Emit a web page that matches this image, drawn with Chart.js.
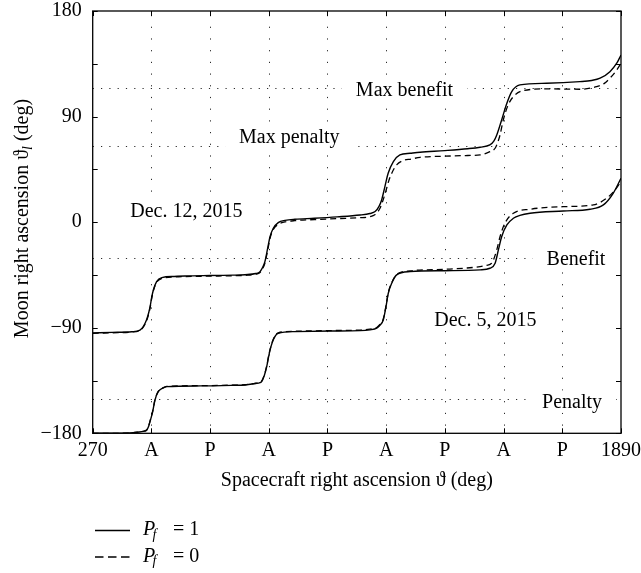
<!DOCTYPE html>
<html>
<head>
<meta charset="utf-8">
<script src="https://cdn.jsdelivr.net/npm/chart.js@4.4.1/dist/chart.umd.min.js"></script>
<style>
  html, body { margin: 0; padding: 0; background: #fff; }
  #wrap { width: 641px; height: 573px; position: relative; }
  canvas { display: block; }
</style>
</head>
<body>
<div id="wrap"><canvas id="c" width="641" height="573"></canvas></div>
<script>
// ---------------- data ----------------
const xTickLabels = ['270', 'A', 'P', 'A', 'P', 'A', 'P', 'A', 'P', '1890'];
const yTickLabels = ['\u2212180', '', '\u221290', '', '0', '', '90', '', '180'];
const refLevels = [114.2, 65.0, -30.8, -151.0];

const annText = ['Max benefit', 'Max penalty', 'Dec. 12, 2015', 'Benefit', 'Dec. 5, 2015', 'Penalty'];
const annX = [1226, 873, 557, 1752, 1474, 1740];
const annY = [112.7, 72.9, 9.5, -30.8, -83.4, -153.0];

const legendLabels = ['1', '0'];

// Dec. 12, 2015 departure, P_f = 1 (solid)
const dec12Pf1 = [
  [270,-94.5],[330,-94.0],[390,-93.4],[415,-92.0],[431,-86.0],[439,-80.0],[446,-72.0],[451,-64.0],[456,-57.8],
  [466,-50.7],[482,-47.3],[520,-46.3],[553,-45.9],[630,-45.5],[700,-45.2],[737,-44.8],[770,-43.8],[783,-42.2],
  [792,-38.0],[798,-33.7],[806.6,-22.2],[813.7,-12.4],[823.8,-5.2],[839,-0.4],[860,1.5],[890,2.5],[950,3.3],
  [1020,4.5],[1090,6.1],[1120,7.4],[1136,9.0],[1148,13.5],[1156,18.9],[1166,30.3],[1176,41.7],[1192,51.6],
  [1212,57.3],[1243,58.7],[1274,59.6],[1350,61.0],[1420,62.6],[1458,63.9],[1488,65.8],[1500,69.0],[1509,74.3],
  [1524,87.1],[1540,101.4],[1555,111.3],[1580,117.0],[1662,118.4],[1764,119.8],[1800,120.8],[1826,122.7],
  [1856,128.3],[1877,135.5],[1890,142.5]
];
// Dec. 12, 2015 departure, P_f = 0 (dashed)
const dec12Pf0 = [
  [270,-94.8],[330,-94.3],[390,-93.7],[415,-92.4],[431,-86.8],[439,-81.0],[446,-73.0],[451,-65.0],[456,-58.6],
  [466,-51.3],[482,-48.0],[520,-46.8],[553,-46.4],[630,-46.0],[700,-45.7],[737,-45.3],[770,-44.4],[783,-43.0],
  [792,-39.2],[798,-35.0],[806.6,-24.0],[813.7,-13.8],[823.8,-6.2],[839,-1.8],[860,0.2],[890,1.3],[950,2.2],
  [1020,3.0],[1090,3.8],[1120,4.6],[1130,5.5],[1140,7.5],[1151,11.8],[1160,18.5],[1168.5,26.0],[1177,34.5],
  [1187,41.7],[1202,48.8],[1228,53.0],[1243,53.6],[1274,55.3],[1350,56.2],[1420,56.8],[1458,57.3],[1488,60.1],
  [1504,63.0],[1512,68.0],[1519,74.3],[1529,87.1],[1544,99.9],[1560,107.0],[1590,112.1],[1662,113.6],
  [1764,113.3],[1815,115.5],[1840,118.5],[1856,122.7],[1875,129.0],[1890,135.5]
];
// Dec. 5, 2015 departure, P_f = 1 (solid)
const dec5Pf1 = [
  [270,-180],[330,-180],[384,-179.8],[410,-179.0],[425,-178.3],[435.6,-177.2],[441,-174.5],[445.7,-170.0],
  [454,-161.5],[461,-151.6],[471,-144.5],[485,-141.5],[497,-140.2],[600,-139.6],[700,-139.1],[737,-138.8],
  [770,-137.6],[783,-136.8],[788,-136.0],[796,-131.0],[803.6,-123.2],[811.5,-111.8],[823.8,-100.3],[839,-94.7],
  [890,-93.3],[1000,-92.8],[1090,-92.5],[1120,-91.8],[1141,-90.4],[1152,-87.5],[1161,-83.4],[1169.4,-72.0],
  [1176.4,-60.6],[1186.9,-52.1],[1202,-45.0],[1243,-42.2],[1350,-41.4],[1458,-40.7],[1488,-39.3],[1504,-35.0],
  [1514,-23.7],[1524,-12.4],[1540,-2.4],[1560,3.3],[1580,5.8],[1611,7.6],[1713,9.5],[1795,11.0],[1836,14.7],
  [1866,24.6],[1890,37.4]
];
// Dec. 5, 2015 departure, P_f = 0 (dashed)
const dec5Pf0 = [
  [270,-180],[330,-180],[384,-179.8],[410,-179.0],[425,-178.3],[435.6,-177.2],[441,-174.3],[445.7,-169.6],
  [454,-161.0],[461,-151.2],[471,-144.2],[485,-141.3],[497,-140.0],[600,-139.4],[700,-138.9],[737,-138.6],
  [770,-137.3],[783,-136.4],[788,-135.5],[796,-130.4],[803.6,-122.6],[811.5,-111.2],[823.8,-99.8],[839,-94.3],
  [890,-93.0],[1000,-92.4],[1090,-92.0],[1120,-91.2],[1141,-89.8],[1152,-86.8],[1161,-82.6],[1169.4,-71.2],
  [1176.4,-60.0],[1186.9,-51.6],[1202,-44.6],[1243,-41.5],[1350,-40.2],[1458,-37.9],[1478,-36.8],[1493.5,-35.0],
  [1509,-23.7],[1519,-12.4],[1534,-0.9],[1560,7.6],[1611,11.0],[1713,13.2],[1805,14.7],[1846,20.4],
  [1872,27.5],[1890,34.5]
];

// ---------------- chart ----------------
const SERIF = '"Liberation Serif", "DejaVu Serif", "Times New Roman", serif';
const toXY = arr => arr.map(p => ({ x: p[0], y: p[1] }));

function richText(ctx, segs, x, y, align) {
  // segs: [{t, font, dy}]
  let total = 0;
  segs.forEach(s => { ctx.font = s.font; s.w = ctx.measureText(s.t).width; total += s.w; });
  let cx = align === 'center' ? x - total / 2 : x;
  segs.forEach(s => {
    ctx.font = s.font;
    ctx.textAlign = 'left';
    ctx.fillText(s.t, cx, y + (s.dy || 0));
    cx += s.w;
  });
}

const decor = {
  id: 'decor',
  beforeDatasetsDraw(chart) {
    const { ctx, chartArea: a, scales: { x, y } } = chart;
    ctx.save();
    ctx.strokeStyle = '#2a2a2a';
    ctx.lineWidth = 1;
    // vertical dotted grid at x ticks
    ctx.setLineDash([1.2, 10.5]);
    x.ticks.forEach((t, i) => {
      if (i === 0 || i === x.ticks.length - 1) return;
      const px = Math.round(x.getPixelForValue(t.value)) + 0.5;
      ctx.beginPath(); ctx.moveTo(px, a.top + 4); ctx.lineTo(px, a.bottom); ctx.stroke();
    });
    // horizontal dotted reference levels
    ctx.setLineDash([1.2, 7.1]);
    refLevels.forEach(v => {
      const py = Math.round(y.getPixelForValue(v)) + 0.5;
      ctx.beginPath(); ctx.moveTo(a.left, py); ctx.lineTo(a.right, py); ctx.stroke();
    });
    ctx.setLineDash([]);
    // annotations with white background
    ctx.font = '20px ' + SERIF;
    ctx.textBaseline = 'middle';
    ctx.textAlign = 'center';
    annText.forEach((t, i) => {
      const px = x.getPixelForValue(annX[i]);
      const py = y.getPixelForValue(annY[i]);
      const w = ctx.measureText(t).width;
      ctx.fillStyle = '#fff';
      ctx.fillRect(px - w / 2 - 14, py - 11, w + 28, 22);
      ctx.fillStyle = '#000';
      ctx.fillText(t, px, py + 1);
    });
    ctx.restore();
  },
  afterDatasetsDraw(chart) {
    const { ctx, chartArea: a, scales: { x, y } } = chart;
    ctx.save();
    ctx.strokeStyle = '#000';
    ctx.lineWidth = 1.3;
    ctx.strokeRect(a.left, a.top, a.right - a.left, a.bottom - a.top);
    ctx.lineWidth = 1;
    const tl = 5;
    ctx.beginPath();
    x.ticks.forEach(t => {
      const px = Math.round(x.getPixelForValue(t.value)) + 0.5;
      ctx.moveTo(px, a.bottom); ctx.lineTo(px, a.bottom - tl);
      ctx.moveTo(px, a.top); ctx.lineTo(px, a.top + tl);
    });
    y.ticks.forEach(t => {
      const py = Math.round(y.getPixelForValue(t.value)) + 0.5;
      ctx.moveTo(a.left, py); ctx.lineTo(a.left + tl, py);
      ctx.moveTo(a.right, py); ctx.lineTo(a.right - tl, py);
    });
    ctx.stroke();
    ctx.restore();
  },
  afterDraw(chart) {
    const { ctx, chartArea: a } = chart;
    ctx.save();
    ctx.fillStyle = '#000';
    ctx.textBaseline = 'middle';
    // x title
    richText(ctx, [{ t: 'Spacecraft right ascension \u03D1 (deg)', font: '20px ' + SERIF }],
      (a.left + a.right) / 2, 481, 'center');
    // y title (rotated)
    ctx.save();
    ctx.translate(23, 218.5);
    ctx.rotate(-Math.PI / 2);
    richText(ctx, [
      { t: 'Moon right ascension \u03D1', font: '20px ' + SERIF },
      { t: 'l', font: 'italic 14px ' + SERIF, dy: 5 },
      { t: ' (deg)', font: '20px ' + SERIF }
    ], 0, 0, 'center');
    ctx.restore();
    // legend
    const rows = [530, 556.5];
    ctx.strokeStyle = '#000';
    ctx.lineWidth = 1.3;
    rows.forEach((ry, i) => {
      ctx.setLineDash(i === 0 ? [] : [8.5, 4.5]);
      ctx.beginPath(); ctx.moveTo(95, ry + 0.5); ctx.lineTo(130, ry + 0.5); ctx.stroke();
      ctx.setLineDash([]);
      ctx.font = 'italic 20px ' + SERIF; ctx.textAlign = 'left';
      ctx.fillText('P', 143, ry);
      ctx.font = 'italic 14px ' + SERIF;
      ctx.fillText('f', 152.5, ry + 5);
      ctx.font = '20px ' + SERIF;
      ctx.fillText('= ' + legendLabels[i], 173, ry);
    });
    ctx.restore();
  }
};

const solid = { borderColor: '#000', borderWidth: 1.4, pointRadius: 0, fill: false, cubicInterpolationMode: 'monotone' };
const dashed = Object.assign({}, solid, { borderDash: [6, 4], borderWidth: 1.3 });

new Chart(document.getElementById('c'), {
  type: 'line',
  data: {
    datasets: [
      Object.assign({ label: 'Dec. 5, 2015, Pf = 0', data: toXY(dec5Pf0) }, dashed),
      Object.assign({ label: 'Dec. 5, 2015, Pf = 1', data: toXY(dec5Pf1) }, solid),
      Object.assign({ label: 'Dec. 12, 2015, Pf = 0', data: toXY(dec12Pf0) }, dashed),
      Object.assign({ label: 'Dec. 12, 2015, Pf = 1', data: toXY(dec12Pf1) }, solid)
    ]
  },
  options: {
    responsive: false,
    animation: false,
    devicePixelRatio: 1,
    layout: { padding: { top: 11, right: 20, bottom: 99.7, left: 0 } },
    plugins: { legend: { display: false }, tooltip: { enabled: false } },
    scales: {
      x: {
        type: 'linear', min: 270, max: 1890,
        grid: { display: false, drawTicks: false },
        border: { display: false },
        ticks: {
          stepSize: 180, autoSkip: false, maxRotation: 0, padding: 5,
          color: '#000', font: { family: SERIF, size: 20 },
          callback: (v, i) => xTickLabels[i]
        },
        afterFit: s => { s.height = 40; s.paddingLeft = 0; s.paddingRight = 0; }
      },
      y: {
        type: 'linear', min: -180, max: 180,
        grid: { display: false, drawTicks: false },
        border: { display: false },
        ticks: {
          stepSize: 45, autoSkip: false, padding: 11,
          color: '#000', font: { family: SERIF, size: 20 },
          callback: (v, i) => yTickLabels[i]
        },
        afterFit: s => { s.width = 92.7; s.paddingTop = 0; s.paddingBottom = 0; }
      }
    }
  },
  plugins: [decor]
});
</script>
</body>
</html>
